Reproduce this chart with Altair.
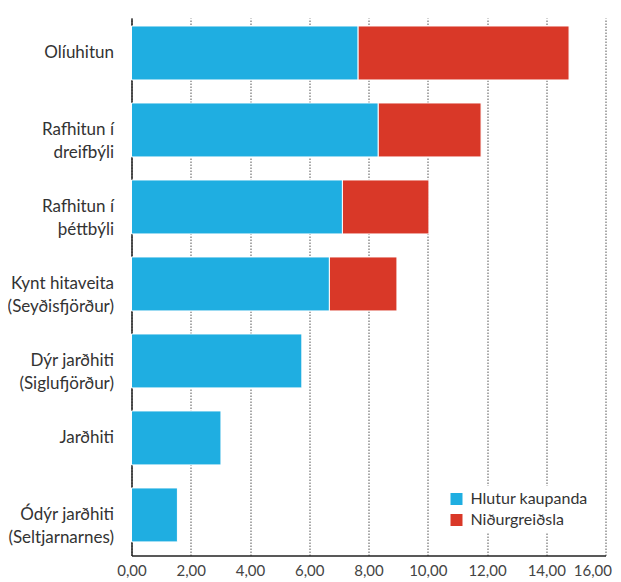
import altair as alt
import pandas as pd

categories = [
    "Olíuhitun",
    "Rafhitun í|dreifbýli",
    "Rafhitun í|þéttbýli",
    "Kynt hitaveita|(Seyðisfjörður)",
    "Dýr jarðhiti|(Siglufjörður)",
    "Jarðhiti",
    "Ódýr jarðhiti|(Seltjarnarnes)",
]
hlutur_kaupanda = [7.65, 8.33, 7.12, 6.68, 5.75, 3.02, 1.55]
nidurgreidsla = [7.12, 3.47, 2.92, 2.28, 0.0, 0.0, 0.0]
series = ["Hlutur kaupanda", "Niðurgreiðsla"]
colors = ["#1FAEE1", "#D93828"]
x_ticks = [0, 2, 4, 6, 8, 10, 12, 14, 16]

rows = []
for c, a, b in zip(categories, hlutur_kaupanda, nidurgreidsla):
    rows.append({"cat": c, "series": series[0], "value": a, "ord": 0})
    if b > 0:
        rows.append({"cat": c, "series": series[1], "value": b, "ord": 1})
df = pd.DataFrame(rows)

FONT = "Lato"

chart = alt.Chart(df).mark_bar(stroke="white", strokeWidth=1).encode(
    y=alt.Y(
        "cat:N",
        sort=categories,
        title=None,
        scale=alt.Scale(paddingInner=0.2987, paddingOuter=0.14, align=0.37),
        axis=alt.Axis(
            labelExpr="split(datum.label, '|')",
            labelAlign="right",
            labelPadding=18,
            labelFontSize=17,
            labelLineHeight=23,
            labelColor="#333333",
            labelFont=FONT,
            ticks=False,
            domainColor="#222222",
            domainWidth=1.5,
            grid=False,
        ),
    ),
    x=alt.X(
        "value:Q",
        stack="zero",
        title=None,
        scale=alt.Scale(domain=[0, 16], nice=False),
        axis=alt.Axis(
            values=x_ticks,
            labelExpr="replace(format(datum.value, '.2f'), '.', ',')",
            labelFontSize=15,
            labelColor="#444444",
            labelFont=FONT,
            labelPadding=8,
            labelAlign={"condition": {"test": "datum.value == 16", "value": "right"}, "value": "center"},
            labelOffset={"condition": {"test": "datum.value == 16", "value": 6}, "value": 0},
            ticks=False,
            domainColor="#222222",
            domainWidth=1.5,
            grid=True,
            gridDash=[1.5, 1.5],
            gridColor="#555555",
            gridWidth=1,
            labelFlush=False,
        ),
    ),
    color=alt.Color(
        "series:N",
        scale=alt.Scale(domain=series, range=colors),
        legend=alt.Legend(
            title=None,
            orient="none",
            legendX=312,
            legendY=468,
            symbolType="square",
            symbolSize=144,
            symbolStrokeWidth=0,
            labelFontSize=16,
            labelFont=FONT,
            labelColor="#333333",
            fillColor="white",
            padding=5,
            rowPadding=5,
            labelOffset=6,
        ),
    ),
    order=alt.Order("ord:Q"),
).properties(
    width=474,
    height=537.5,
    autosize=alt.AutoSizeParams(type="none"),
    padding={"left": 123.5, "top": 10, "right": 7.5, "bottom": 26},
).configure_view(stroke=None)

chart.save("out.html", embed_options={"renderer": "svg", "actions": False})
